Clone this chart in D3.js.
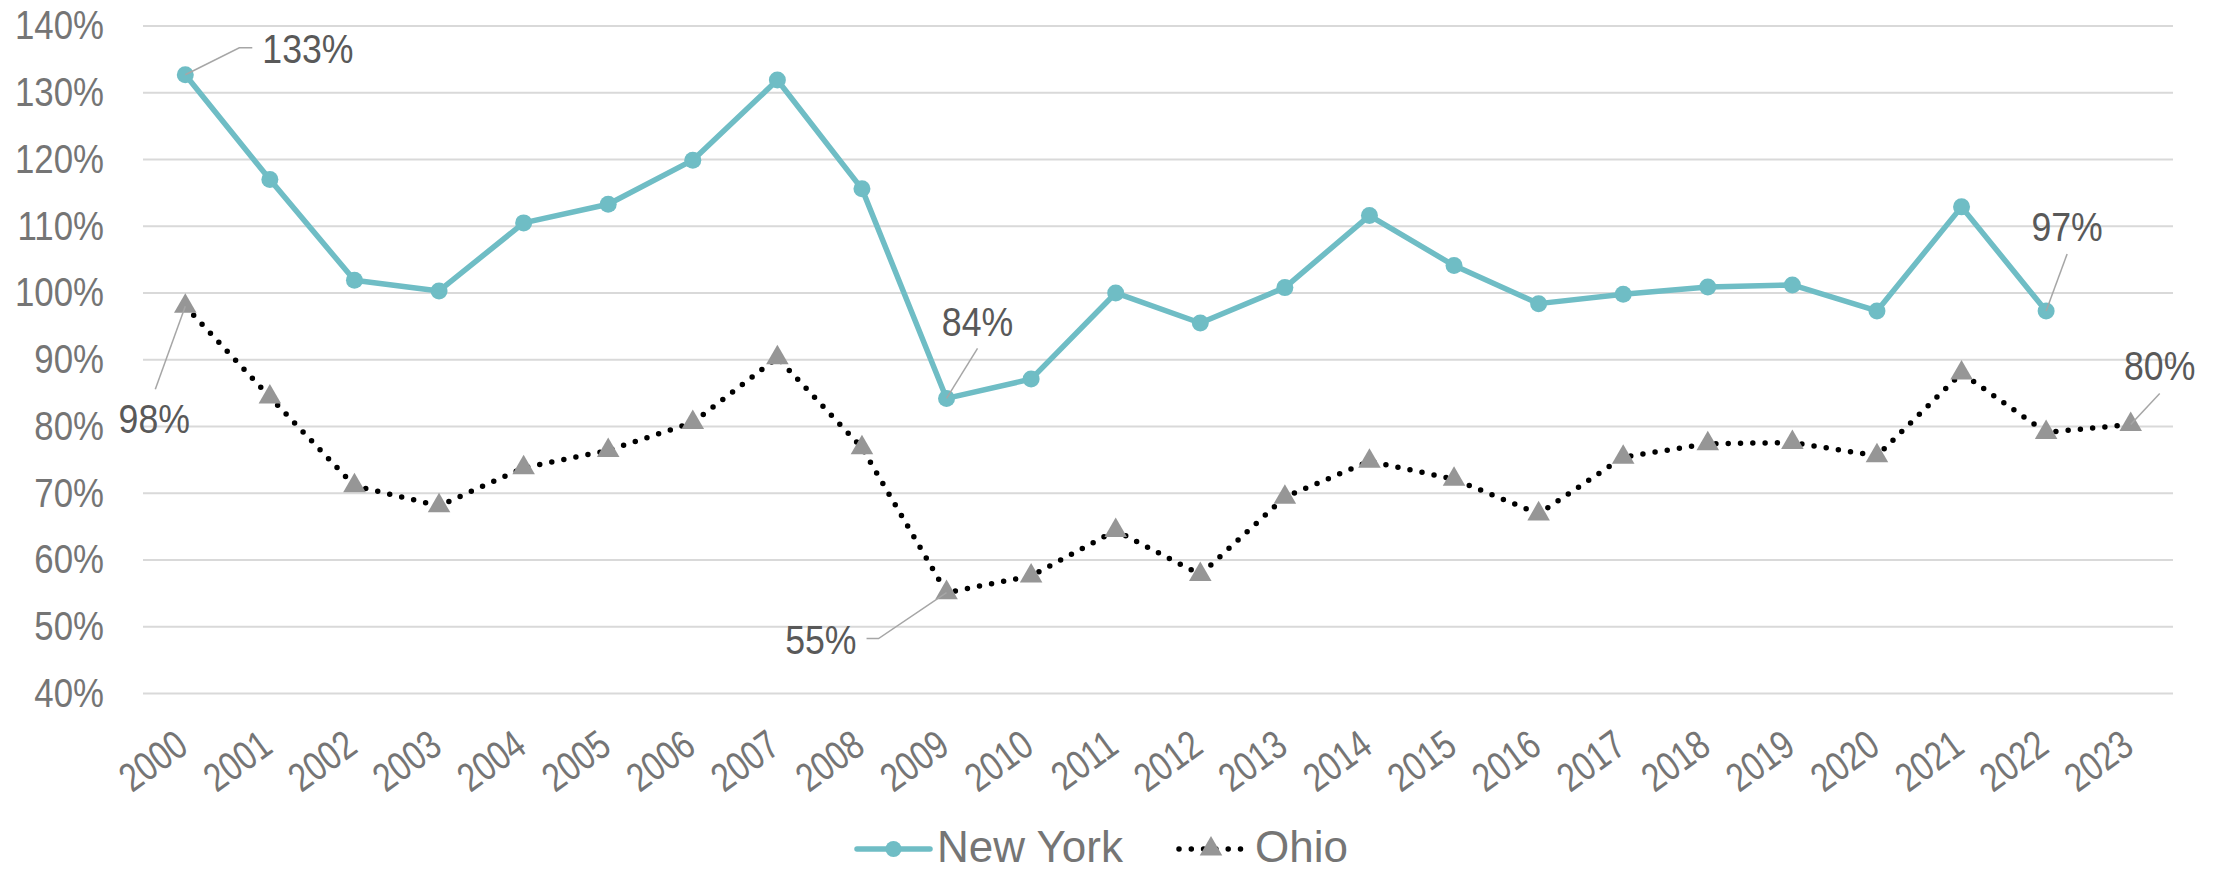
<!DOCTYPE html>
<html>
<head>
<meta charset="utf-8">
<script src="https://cdn.jsdelivr.net/npm/d3@7"></script>
<style>
  html, body { margin: 0; padding: 0; background: #fff; }
  svg { display: block; }
</style>
</head>
<body>
<svg id="chart"></svg>
<script>
// data
const years = ["2000", "2001", "2002", "2003", "2004", "2005", "2006", "2007", "2008", "2009", "2010", "2011",
  "2012", "2013", "2014", "2015", "2016", "2017", "2018", "2019", "2020", "2021", "2022", "2023"];
const newYork = [132.7, 117.0, 101.9, 100.3, 110.5, 113.3, 119.9, 131.9, 115.6, 84.2, 87.1, 100.0,
  95.5, 100.8, 111.6, 104.1, 98.4, 99.8, 100.9, 101.2, 97.3, 112.9, 97.3, null];
const ohio = [98.0, 84.4, 71.1, 68.1, 73.8, 76.4, 80.6, 90.3, 76.8, 55.1, 57.6, 64.4,
  57.8, 69.4, 74.8, 72.1, 66.9, 75.4, 77.4, 77.6, 75.6, 88.0, 79.1, 80.3];
const yTicks = [40, 50, 60, 70, 80, 90, 100, 110, 120, 130, 140];

// callouts: which point, the text, and where the text / leader go relative to the point
const callouts = [
  { series: "ny", year: "2000", text: "133%", anchor: "start", dx: 77, dy: -12, leader: [[54, -27], [67, -27]] },
  { series: "oh", year: "2000", text: "98%", anchor: "middle", dx: -31, dy: 127, leader: [[-30, 83]] },
  { series: "ny", year: "2009", text: "84%", anchor: "middle", dx: 31, dy: -62, leader: [[31, -50]] },
  { series: "oh", year: "2009", text: "55%", anchor: "end", dx: -90, dy: 61, leader: [[-68, 46], [-80, 46]] },
  { series: "ny", year: "2022", text: "97%", anchor: "middle", dx: 21, dy: -70, leader: [[21, -57]] },
  { series: "oh", year: "2023", text: "80%", anchor: "middle", dx: 29, dy: -44, leader: [[29, -31]] },
];

const W = 2219, H = 872;
const plot = { left: 143, right: 2173, top: 26, bottom: 693.4 };
const COLORS = { ny: "#6fbdc5", oh: "#969696", dots: "#000", grid: "#d9d9d9", axis: "#757575", label: "#595959", leader: "#a6a6a6" };
const FONT = "'Liberation Sans', Arial, sans-serif";
const NUM_SIZE = 40.5;
const SQUEEZE = "scale(0.86,1)"; // the original face is narrower than Liberation Sans

const svg = d3.select("#chart").attr("width", W).attr("height", H).attr("viewBox", `0 0 ${W} ${H}`);

const x = d3.scaleBand().domain(years).range([plot.left, plot.right]).padding(0);
const y = d3.scaleLinear().domain([40, 140]).range([plot.bottom, plot.top]);
const cx = (yr) => x(yr) + x.bandwidth() / 2;

// gridlines
svg.append("g")
  .selectAll("line")
  .data(yTicks)
  .join("line")
  .attr("x1", plot.left)
  .attr("x2", plot.right)
  .attr("y1", (d) => y(d))
  .attr("y2", (d) => y(d))
  .attr("stroke", COLORS.grid)
  .attr("stroke-width", 2);

// y axis labels
const yAxis = svg.append("g")
  .attr("transform", `translate(104,0)`)
  .call(d3.axisLeft(y).tickValues(yTicks).tickSize(0).tickPadding(0).tickFormat((d) => d + "%"));
yAxis.select(".domain").remove();
yAxis.selectAll("text")
  .attr("x", 0)
  .attr("font-family", FONT)
  .attr("font-size", NUM_SIZE)
  .attr("fill", COLORS.axis)
  .attr("transform", SQUEEZE);

// x axis labels, rotated
const xAxis = svg.append("g")
  .attr("transform", `translate(0,${plot.bottom})`)
  .call(d3.axisBottom(x).tickSize(0).tickPadding(0));
xAxis.select(".domain").remove();
xAxis.selectAll("text")
  .attr("font-family", FONT)
  .attr("font-size", NUM_SIZE)
  .attr("fill", COLORS.axis)
  .attr("text-anchor", "end")
  .attr("dy", 0)
  .attr("y", 0)
  .attr("transform", "translate(5,57.5) rotate(-36) scale(0.8,1)");

// Ohio: dotted black line with grey triangles
const ohPts = years.map((yr, i) => ({ yr, v: ohio[i] })).filter((d) => d.v != null);
const line = d3.line().x((d) => cx(d.yr)).y((d) => y(d.v));

svg.append("path")
  .datum(ohPts)
  .attr("d", line)
  .attr("fill", "none")
  .attr("stroke", COLORS.dots)
  .attr("stroke-width", 5.5)
  .attr("stroke-linecap", "round")
  .attr("stroke-dasharray", "0 12.3");

const tri = d3.symbol().type(d3.symbolTriangle).size(220);
svg.append("g")
  .selectAll("path")
  .data(ohPts)
  .join("path")
  .attr("d", tri)
  .attr("transform", (d) => `translate(${cx(d.yr)},${y(d.v)})`)
  .attr("fill", COLORS.oh);

// New York: solid teal line with circles
const nyPts = years.map((yr, i) => ({ yr, v: newYork[i] })).filter((d) => d.v != null);

svg.append("path")
  .datum(nyPts)
  .attr("d", line)
  .attr("fill", "none")
  .attr("stroke", COLORS.ny)
  .attr("stroke-width", 5.5)
  .attr("stroke-linejoin", "round");

svg.append("g")
  .selectAll("circle")
  .data(nyPts)
  .join("circle")
  .attr("cx", (d) => cx(d.yr))
  .attr("cy", (d) => y(d.v))
  .attr("r", 8.5)
  .attr("fill", COLORS.ny);

// callouts with leader lines
const seriesVal = { ny: newYork, oh: ohio };
const cg = svg.append("g");
for (const c of callouts) {
  const px = cx(c.year);
  const py = y(seriesVal[c.series][years.indexOf(c.year)]);
  const pts = [[px, py], ...c.leader.map(([dx, dy]) => [px + dx, py + dy])];
  cg.append("path")
    .attr("d", d3.line()(pts))
    .attr("fill", "none")
    .attr("stroke", COLORS.leader)
    .attr("stroke-width", 1.5);
  cg.append("text")
    .attr("transform", `translate(${px + c.dx},${py + c.dy}) ${SQUEEZE}`)
    .attr("text-anchor", c.anchor)
    .attr("font-family", FONT)
    .attr("font-size", NUM_SIZE + 1)
    .attr("fill", COLORS.label)
    .text(c.text);
}

// legend
const legend = svg.append("g").attr("transform", "translate(0,849)");
const nyL = legend.append("g").attr("transform", "translate(857,0)");
nyL.append("line").attr("x1", 0).attr("x2", 73).attr("stroke", COLORS.ny).attr("stroke-width", 5.5).attr("stroke-linecap", "round");
nyL.append("circle").attr("cx", 36.5).attr("r", 8).attr("fill", COLORS.ny);
nyL.append("text").attr("x", 80).attr("y", 13).attr("font-family", FONT).attr("font-size", 44).attr("fill", COLORS.axis).text("New York");

const ohL = legend.append("g").attr("transform", "translate(1177,0)");
ohL.append("line").attr("x1", 2).attr("x2", 66).attr("stroke", COLORS.dots).attr("stroke-width", 5.5)
  .attr("stroke-linecap", "round").attr("stroke-dasharray", "0 12.3");
ohL.append("path").attr("d", tri).attr("transform", "translate(34,0)").attr("fill", COLORS.oh);
ohL.append("text").attr("x", 78).attr("y", 13).attr("font-family", FONT).attr("font-size", 44).attr("fill", COLORS.axis).text("Ohio");
</script>
</body>
</html>
